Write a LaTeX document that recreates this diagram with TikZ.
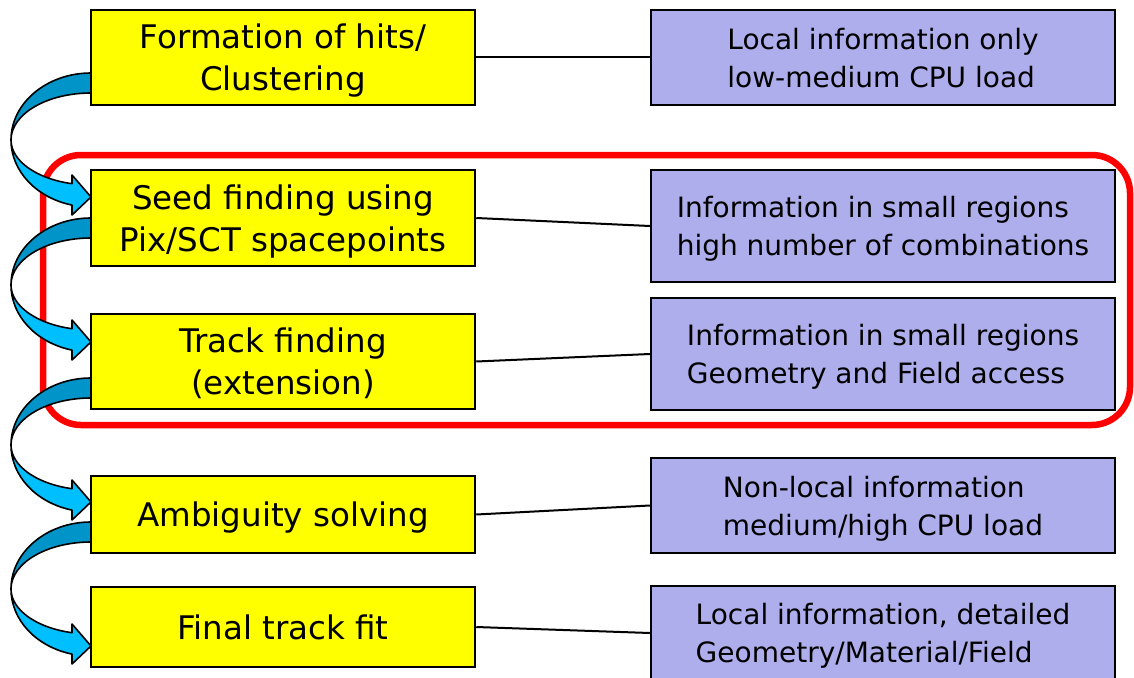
\documentclass[tikz,border=0pt]{standalone}
\usepackage{fontspec}
\setmainfont{DejaVu Sans}
\definecolor{periw}{HTML}{AEAEEC}
\definecolor{boxyellow}{HTML}{FFFF00}
\definecolor{framered}{HTML}{FF0000}
\definecolor{ribbondark}{HTML}{0094C8}
\definecolor{ribbonlight}{HTML}{00BFFF}
\tikzset{
  ybox/.style={draw=black, line width=2.5pt, fill=boxyellow, inner sep=0pt,
    minimum width=384pt, align=center, text depth=0pt,
    font=\fontsize{32.5}{42}\selectfont},
  pbox/.style={draw=black, line width=2.2pt, fill=periw, inner sep=0pt,
    minimum width=464pt, align=left, text depth=0pt,
    font=\fontsize{28}{38}\selectfont},
  conn/.style={draw=black, line width=2pt},
  ribbonback/.style={fill=ribbondark, draw=black, line width=1.6pt, line join=round},
  ribbonfront/.style={fill=ribbonlight, draw=black, line width=1.6pt, line join=round},
}
% curved ribbon arrow: #1 = top of band at left edge of box (y, px)
\newcommand{\ribbonarrow}[1]{%
  \pgfmathsetmacro{\cy}{#1+67}%
  \draw[ribbonback] (91,#1) arc[start angle=-90, end angle=-180, x radius=80, y radius=67]
     arc[start angle=180, end angle=270, x radius=80, y radius=47] -- cycle;
  \draw[ribbonfront] (11,\cy) arc[start angle=180, end angle=103.74, x radius=80, y radius=67]
     -- (72,\cy+75) -- (91,\cy+57) -- (72,\cy+35) -- (72,\cy+43.7)
     arc[start angle=103.74, end angle=180, x radius=80, y radius=45] -- cycle;
}
\begin{document}
\begin{tikzpicture}[x=1pt,y=-1pt]
\useasboundingbox (0,0) rectangle (1134,677);
\clip (0,0) rectangle (1134,677);
\fill[white] (0,0) rectangle (1134,677);

% red frame
\draw[framered, line width=6.5pt, rounded corners=38pt] (43,155) rectangle (1130,425);

% yellow boxes
\node[ybox, minimum height=95pt] (y1) at (283,57.5) {Formation of hits/\\Clustering};
\node[ybox, minimum height=96pt] (y2) at (283,218) {Seed finding using\\Pix/SCT spacepoints};
\node[ybox, minimum height=95pt] (y3) at (283,361.5) {Track finding\\(extension)};
\node[ybox, minimum height=77pt] (y4) at (283,514.5) {Ambiguity solving};
\node[ybox, minimum height=80pt] (y5) at (283,627) {Final track fit};

% blue boxes
\node[pbox, minimum height=95pt] (b1) at (883,57.5) {Local information only\\low-medium CPU load};
\node[pbox, minimum height=112pt] (b2) at (883,226) {Information in small regions\\high number of combinations};
\node[pbox, minimum height=112pt] (b3) at (883,354) {Information in small regions\\Geometry and Field access};
\node[pbox, minimum height=95pt] (b4) at (883,505.5) {Non-local information\\medium/high CPU load};
\node[pbox, minimum height=94pt] (b5) at (883,633) {Local information, detailed\\Geometry/Material/Field};

% connectors
\draw[conn] (y1.east) -- (b1.west);
\draw[conn] (y2.east) -- (b2.west);
\draw[conn] (y3.east) -- (b3.west);
\draw[conn] (y4.east) -- (b4.west);
\draw[conn] (y5.east) -- (b5.west);

% curved ribbon arrows
\ribbonarrow{73}
\ribbonarrow{218}
\ribbonarrow{378}
\ribbonarrow{522}
\end{tikzpicture}
\end{document}
